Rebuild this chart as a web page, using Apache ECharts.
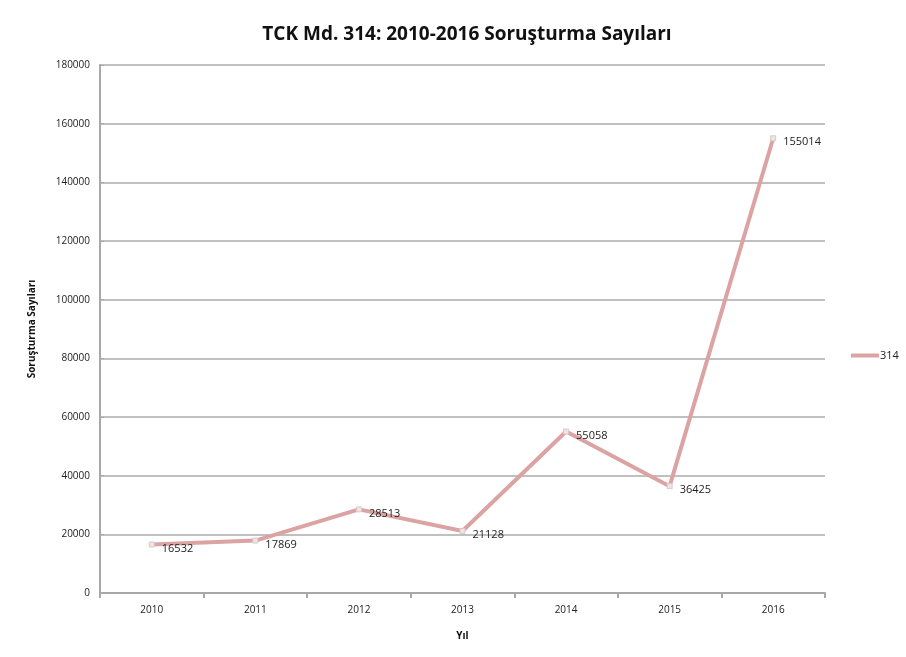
<!DOCTYPE html>
<html><head><meta charset="utf-8">
<script src="https://cdn.jsdelivr.net/npm/echarts@6/dist/echarts.min.js"></script>
<style>html,body{margin:0;padding:0;background:#fff}#c{width:906px;height:657px}</style>
</head><body><div id="c"></div>
<script>
const categories = ['2010','2011','2012','2013','2014','2015','2016'];
const values = [16532, 17869, 28513, 21128, 55058, 36425, 155014];
const seriesName = '314';
const chart = echarts.init(document.getElementById('c'));
chart.setOption({
  animation: false,
  title: { text: 'TCK Md. 314: 2010-2016 Soruşturma Sayıları', left: 462, top: 20, textAlign: 'center',
    textStyle: { fontFamily: 'Open Sans', fontSize: 19, fontWeight: 'bold', color: '#111' } },
  legend: { left: 846, top: 345, orient: 'vertical', itemWidth: 28, itemHeight: 4, itemGap: 4,
    data: [{ name: seriesName, icon: 'rect', itemStyle: { color: '#dca3a3', borderWidth: 0 } }],
    textStyle: { fontFamily: 'Open Sans', fontSize: 11, color: '#222', padding: [0,0,0,-4] } },
  grid: { left: 100, right: 81, top: 65, bottom: 64 },
  xAxis: { type: 'category', data: categories, boundaryGap: true,
    name: 'Yıl', nameLocation: 'middle', nameGap: 38,
    nameTextStyle: { fontFamily: 'Open Sans', fontSize: 10, fontWeight: 'bold', color: '#111' },
    axisLine: { lineStyle: { color: '#a8a8a8', width: 2 } },
    axisTick: { show: true, length: 5, lineStyle: { color: '#a8a8a8', width: 2 } },
    axisLabel: { fontFamily: 'Open Sans', fontSize: 10, color: '#222', margin: 12 } },
  yAxis: { type: 'value', min: 0, max: 180000, interval: 20000,
    name: 'Soruşturma Sayıları', nameLocation: 'middle', nameGap: 63, nameRotate: 90,
    nameTextStyle: { fontFamily: 'Open Sans', fontSize: 10, fontWeight: 'bold', color: '#111' },
    axisLine: { show: true, lineStyle: { color: '#a8a8a8', width: 2 } },
    axisTick: { show: true, length: 4, inside: true, lineStyle: { color: '#a8a8a8' } },
    splitLine: { lineStyle: { color: '#c0c0c0', width: 2 } },
    axisLabel: { fontFamily: 'Open Sans', fontSize: 10, color: '#222', margin: 10, formatter: v => String(v) } },
  series: [{ name: seriesName, type: 'line', data: values,
    lineStyle: { color: '#dca3a3', width: 4 },
    itemStyle: { color: '#ebe6e6', borderColor: '#dcc8c8', borderWidth: 1 },
    symbol: 'rect', symbolSize: 5, showAllSymbol: true,
    label: { show: true, position: 'right', offset: [2, 4], fontFamily: 'Open Sans', fontSize: 11, color: '#222' } }]
});
</script></body></html>
